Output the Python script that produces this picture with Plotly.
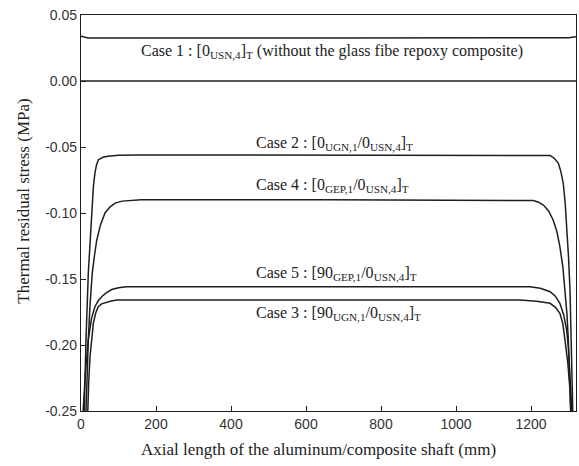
import plotly.graph_objects as go

# ---- data ----
case1_x = [0, 8, 19, 660, 1300, 1320]
case1_y = [0.0340, 0.0333, 0.0326, 0.0326, 0.0327, 0.0335]

case2_x = [7, 8.9, 13.3, 19.5, 24, 28.4, 33, 37, 41, 46, 58, 72, 100, 150, 660, 1240, 1251, 1262, 1273, 1280, 1286, 1291, 1295, 1300, 1304, 1308.5, 1311, 1313]
case2_y = [-0.27, -0.247, -0.196, -0.1455, -0.1205, -0.095, -0.080, -0.070, -0.064, -0.0598, -0.0578, -0.057, -0.0562, -0.056, -0.056, -0.056, -0.0565, -0.0585, -0.0624, -0.069, -0.0775, -0.092, -0.1078, -0.133, -0.1583, -0.2088, -0.247, -0.27]

case4_x = [11, 13.3, 19.5, 24, 30, 36, 42, 52, 64, 77, 91, 110, 135, 160, 660, 1190, 1206, 1220, 1233, 1247, 1259, 1269, 1277, 1285, 1291, 1296, 1299.5, 1306, 1308]
case4_y = [-0.27, -0.247, -0.196, -0.170, -0.1455, -0.132, -0.1205, -0.109, -0.100, -0.0955, -0.0925, -0.0910, -0.0903, -0.090, -0.090, -0.090, -0.0905, -0.0918, -0.094, -0.0985, -0.1053, -0.114, -0.1255, -0.141, -0.1583, -0.177, -0.196, -0.247, -0.27]

case5_x = [4, 6.2, 12, 19.5, 28, 37, 46, 55, 68, 82, 100, 120, 660, 1197, 1225, 1251, 1265, 1277, 1287, 1295, 1300, 1304, 1308.5, 1311]
case5_y = [-0.27, -0.247, -0.220, -0.196, -0.180, -0.171, -0.1665, -0.1634, -0.1603, -0.158, -0.1566, -0.1558, -0.1558, -0.1558, -0.1570, -0.1596, -0.163, -0.1684, -0.177, -0.1886, -0.203, -0.220, -0.247, -0.27]

case3_x = [16, 17.8, 20.5, 24, 28, 33, 39, 46, 55, 64, 78, 95, 660, 1171, 1215, 1251, 1265, 1277, 1285, 1291, 1298, 1304, 1307, 1309]
case3_y = [-0.27, -0.247, -0.228, -0.209, -0.195, -0.1834, -0.176, -0.171, -0.1688, -0.168, -0.1668, -0.166, -0.166, -0.166, -0.1668, -0.1684, -0.1715, -0.176, -0.184, -0.196, -0.213, -0.234, -0.247, -0.27]

x_ticks = [0, 200, 400, 600, 800, 1000, 1200]
y_ticks = [0.05, 0.00, -0.05, -0.10, -0.15, -0.20, -0.25]
y_tick_labels = ["0.05", "0.00", "-0.05", "-0.10", "-0.15", "-0.20", "-0.25"]

labels = [
    "Case 1 : [0<sub>USN,4</sub>]<sub>T</sub> (without the glass fibe repoxy composite)",
    "Case 2 : [0<sub>UGN,1</sub>/0<sub>USN,4</sub>]<sub>T</sub>",
    "Case 4 : [0<sub>GEP,1</sub>/0<sub>USN,4</sub>]<sub>T</sub>",
    "Case 5 : [90<sub>GEP,1</sub>/0<sub>USN,4</sub>]<sub>T</sub>",
    "Case 3 : [90<sub>UGN,1</sub>/0<sub>USN,4</sub>]<sub>T</sub>",
]
label_x = [670, 461, 461, 461, 461]
label_y = [0.0225, -0.0472, -0.0790, -0.1455, -0.1760]
label_anchor = ["center", "left", "left", "left", "left"]

x_title = "Axial length of the aluminum/composite shaft (mm)"
y_title = "Thermal residual stress (MPa)"

# ---- figure ----
fig = go.Figure()
line_style = dict(color="#1e1e1e", width=1.5)
for name, xs, ys in [("Case 1", case1_x, case1_y), ("Case 2", case2_x, case2_y),
                     ("Case 4", case4_x, case4_y), ("Case 5", case5_x, case5_y),
                     ("Case 3", case3_x, case3_y)]:
    fig.add_trace(go.Scatter(x=xs, y=ys, mode="lines", name=name,
                             line=line_style, showlegend=False, hoverinfo="skip"))

# zero reference line
fig.add_hline(y=0, line=dict(color="#1e1e1e", width=1.3))

for txt, lx, ly, anc in zip(labels, label_x, label_y, label_anchor):
    fig.add_annotation(x=lx, y=ly, text=txt, showarrow=False, xanchor=anc, yanchor="middle",
                       font=dict(family="Liberation Serif", size=16, color="#222222"))

# axis titles placed as in the reference
fig.add_annotation(xref="paper", yref="paper", x=0.479, y=-0.096, text=x_title, showarrow=False,
                   xanchor="center", yanchor="middle",
                   font=dict(family="Liberation Serif", size=17, color="#222222"))
fig.add_annotation(xref="paper", yref="paper", x=-0.116, y=0.530, text=y_title, showarrow=False,
                   textangle=-90, xanchor="center", yanchor="middle",
                   font=dict(family="Liberation Serif", size=17, color="#222222"))

axis_common = dict(showline=True, linecolor="#1e1e1e", linewidth=1.3, mirror=True,
                   ticks="inside", ticklen=5, tickcolor="#1e1e1e", showgrid=False, zeroline=False,
                   tickfont=dict(family="Liberation Sans", size=14, color="#333333"))

fig.update_xaxes(range=[0, 1320], tickvals=x_ticks, **axis_common)
fig.update_yaxes(range=[-0.25, 0.05], tickvals=y_ticks, ticktext=y_tick_labels, **axis_common)

fig.update_layout(width=579, height=466, margin=dict(l=81, r=3, t=15, b=55, autoexpand=False),
                  paper_bgcolor="white", plot_bgcolor="white")

fig.write_html("out.html", config={"displayModeBar": False},
               post_script="document.body.style.margin='0';document.body.style.overflow='hidden';")
